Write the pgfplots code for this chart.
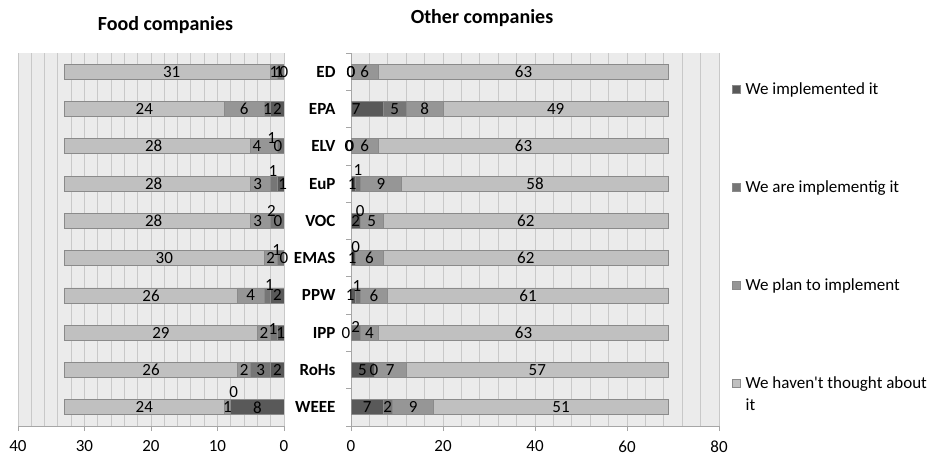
\documentclass[border=0pt]{standalone}
\usepackage{pgfplots}
\pgfplotsset{compat=1.18}
\usepackage{pgfplotstable}
\usepackage{fontspec}
\setmainfont{Carlito}[Ligatures=TeXOff]
\definecolor{cImp}{HTML}{595959}
\definecolor{cIng}{HTML}{767676}
\definecolor{cPlan}{HTML}{969696}
\definecolor{cNot}{HTML}{C0C0C0}
\definecolor{bgc}{HTML}{EBEBEB}
\definecolor{gridc}{HTML}{C8C8C8}
\definecolor{edgec}{HTML}{8A8A8A}
\definecolor{axc}{HTML}{A6A6A6}
\newcommand{\fs}{\fontsize{17}{22}\selectfont}

% y: category (0=ED ... 9=WEEE); a: implemented, b: implementing, c: plan, d: haven't
% xa..yd: label nudges (pt)
\pgfplotstableread{
y a b c d  xa ya xb yb xc yc xd yd
0 0 1 1 31  0 0 -2 0 0 0 4 0
1 2 1 6 24  0 0 0 0 0 0 0 0
2 0 1 4 28  -6 0 -9 8 -7 0 -4 0
3 1 1 3 28  2 0 -1 13 -3 0 -4 0
4 0 2 3 28  -6 0 -6 10 -3 0 -4 0
5 0 1 2 30  0 0 -4 8 0 0 0 0
6 2 1 4 26  0 0 2 10 0 0 0 0
7 1 1 2 29  0 0 -1 4 0 0 0 0
8 2 3 2 26  0 0 0 0 0 0 0 0
9 8 0 1 24  0 0 3 15 0 0 0 0
}\lefttab

\pgfplotstableread{
y a b c d  xa ya xb yb xc yc xd yd
0 0 0 6 63  0 0 0 0 0 0 0 0
1 7 5 8 49  -11 0 0 0 0 0 0 0
2 0 0 6 63  -1 0 -2 0 0 0 0 0
3 1 1 9 58  -1 0 0 14 0 0 0 0
4 2 0 5 62  0 0 0 10 0 0 0 0
5 1 0 6 62  -1 0 0 11 0 0 0 0
6 1 1 6 61  -3 0 -1 9 0 0 0 0
7 0 2 4 63  -5 0 0 6 0 0 0 0
8 5 0 7 57  0 0 0 0 0 0 0 0
9 7 2 9 51  0 0 0 0 0 0 10 0
}\righttab

\pgfplotsset{
  /pgf/number format/assume math mode=true,
  common/.style={scale only axis, height=373pt, ymin=-0.5, ymax=9.5, y dir=reverse,
    anchor=south west, tick label style={font=\fs}},
  lgeom/.style={common, at={(18pt,33pt)}, width=266pt, xmin=0, xmax=40, x dir=reverse},
  rgeom/.style={common, at={(351pt,33pt)}, width=368pt, xmin=0, xmax=80},
  barax/.style={xbar stacked, bar width=15pt,
    axis background/.style={fill=bgc},
    axis x line*=bottom, tick align=outside,
    major tick length=5pt, minor tick length=0pt,
    xticklabel style={yshift=-6pt},
    axis line style={draw=axc, line width=0.8pt},
    major tick style={draw=axc, line width=0.8pt},
    xmajorgrids, xminorgrids,
    grid style={draw=gridc, line width=0.8pt},
    major grid style={draw=gridc, line width=0.8pt},
    minor grid style={draw=gridc, line width=0.8pt}},
  lblax/.style={hide axis, clip=false},
  s1/.style={fill=cImp, draw=edgec, line width=0.8pt},
  s2/.style={fill=cIng, draw=edgec, line width=0.8pt},
  s3/.style={fill=cPlan, draw=edgec, line width=0.8pt},
  s4/.style={fill=cNot, draw=edgec, line width=0.8pt},
}

\newcommand{\lbl}[5]{%
  \addplot[draw=none, mark=none, nodes near coords, point meta=explicit,
    visualization depends on={\thisrow{#4} \as \lx},
    visualization depends on={\thisrow{#5} \as \ly},
    nodes near coords style={anchor=center, font=\fs, inner sep=0pt, xshift=\lx pt, yshift=\ly pt}]
    table[x expr={#2}, y=y, meta=#3] {#1};}

\begin{document}
\begin{tikzpicture}
\path[use as bounding box] (0,0) rectangle (935pt,459pt);

% ---------- Food companies ----------
\begin{axis}[lgeom, barax, axis y line=none,
  xtick={0,10,...,40}, minor xtick={2,4,...,38}]
  \addplot[s1] table[x=a, y=y] {\lefttab};
  \addplot[s2] table[x=b, y=y] {\lefttab};
  \addplot[s3] table[x=c, y=y] {\lefttab};
  \addplot[s4] table[x=d, y=y] {\lefttab};
\end{axis}
\begin{axis}[lgeom, lblax]
  \lbl{\lefttab}{0.5*\thisrow{a}}{a}{xa}{ya}
  \lbl{\lefttab}{\thisrow{a}+0.5*\thisrow{b}}{b}{xb}{yb}
  \lbl{\lefttab}{\thisrow{a}+\thisrow{b}+0.5*\thisrow{c}}{c}{xc}{yc}
  \lbl{\lefttab}{\thisrow{a}+\thisrow{b}+\thisrow{c}+0.5*\thisrow{d}}{d}{xd}{yd}
\end{axis}

% ---------- Other companies ----------
\begin{axis}[rgeom, barax, axis y line*=left,
  xtick={0,20,...,80}, minor xtick={4,8,...,76},
  ytick={-0.5,0.5,...,9.5}, yticklabels={},
  extra y ticks={0,1,...,9},
  extra y tick labels={ED,EPA,ELV,EuP,VOC,EMAS,PPW,IPP,RoHs,WEEE},
  extra y tick style={major tick length=0pt, yticklabel style={font=\fs\bfseries, xshift=-12pt}},
  legend cell align=left,
  legend style={at={(1.035,0.927)}, anchor=north west, draw=none, fill=none,
    font=\fs, row sep=81pt, column sep=3pt, inner sep=0pt},
  legend image code/.code={\draw[#1, draw=edgec, line width=0.6pt] (0pt,-4pt) rectangle (8pt,4pt);}]
  \addplot[s1] table[x=a, y=y] {\righttab};
  \addplot[s2] table[x=b, y=y] {\righttab};
  \addplot[s3] table[x=c, y=y] {\righttab};
  \addplot[s4] table[x=d, y=y] {\righttab};
  \legend{We implemented it, We are implementig it, We plan to implement,
    {\vphantom{Wp}\smash{\begin{tabular}[t]{@{}l@{}}We haven't thought about\\it\end{tabular}}}}
\end{axis}
\begin{axis}[rgeom, lblax]
  \lbl{\righttab}{0.5*\thisrow{a}}{a}{xa}{ya}
  \lbl{\righttab}{\thisrow{a}+0.5*\thisrow{b}}{b}{xb}{yb}
  \lbl{\righttab}{\thisrow{a}+\thisrow{b}+0.5*\thisrow{c}}{c}{xc}{yc}
  \lbl{\righttab}{\thisrow{a}+\thisrow{b}+\thisrow{c}+0.5*\thisrow{d}}{d}{xd}{yd}
\end{axis}

\node[font=\fontsize{20}{24}\selectfont\bfseries] at (165.5pt,434pt) {Food companies};
\node[font=\fontsize{20}{24}\selectfont\bfseries] at (482pt,441pt) {Other companies};
\end{tikzpicture}
\end{document}
